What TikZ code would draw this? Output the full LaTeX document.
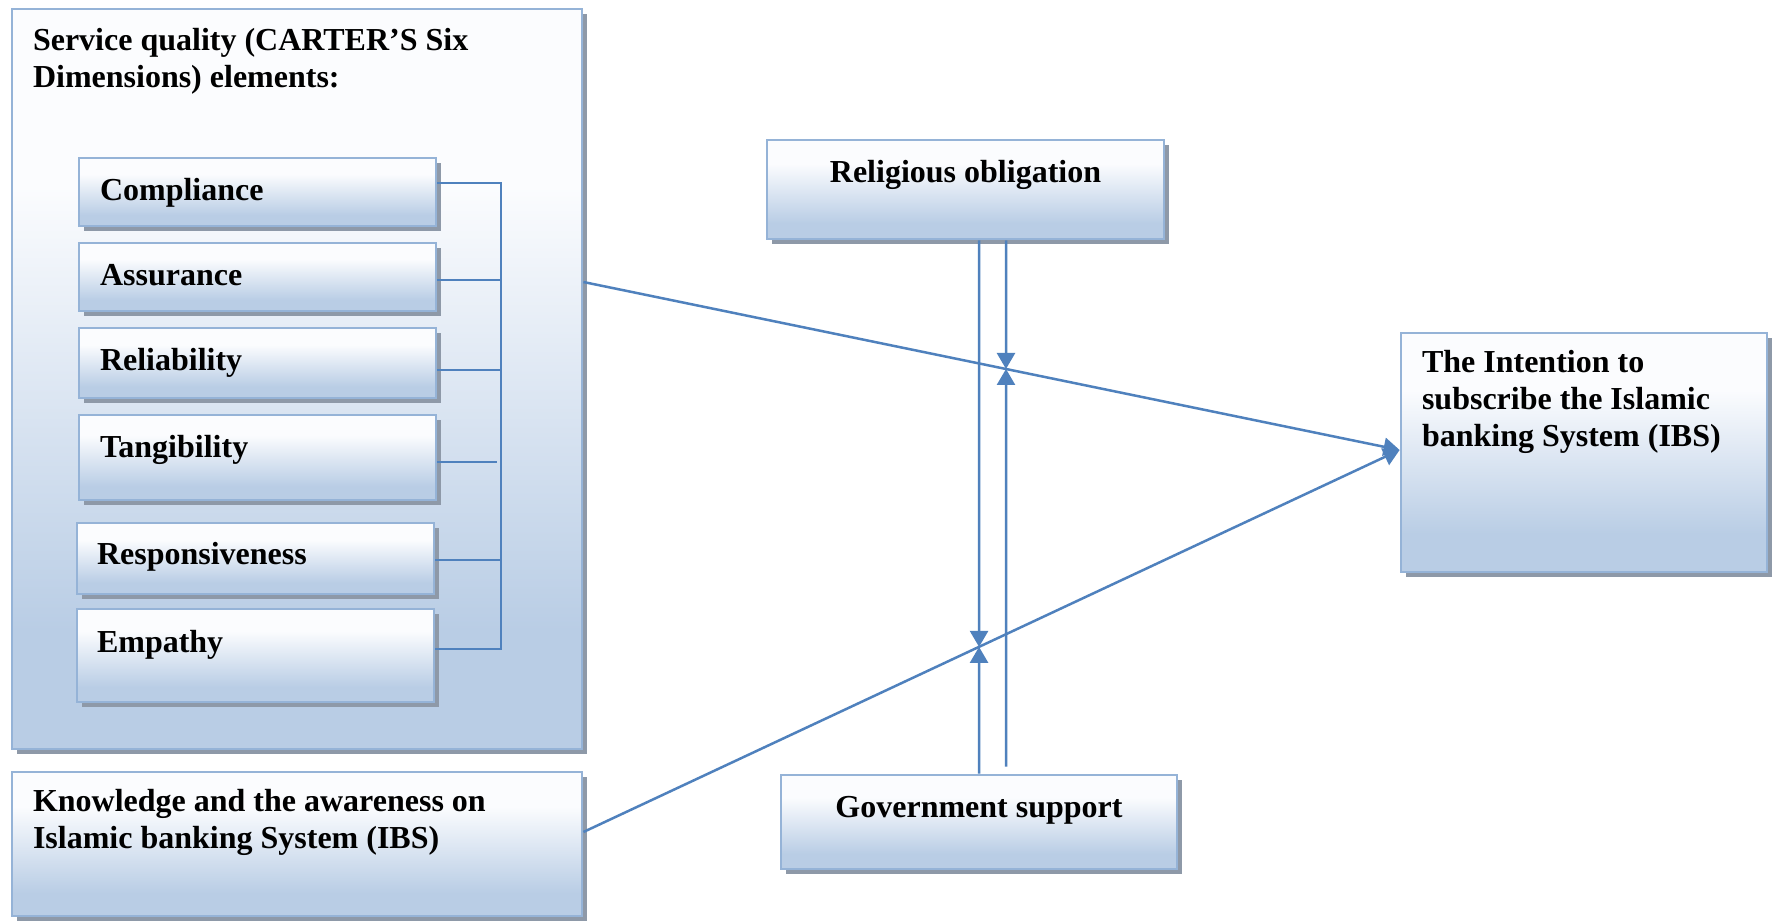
\documentclass[tikz,border=0pt]{standalone}
\usepackage{fontspec}
\setmainfont{Liberation Serif}
\usetikzlibrary{arrows.meta,shadows,fit,calc}
\definecolor{boxborder}{HTML}{95B3D7}
\definecolor{boxbot}{HTML}{B9CDE5}
\definecolor{boxtop}{HTML}{FBFCFE}
\definecolor{shadowgrey}{HTML}{8E99A8}
\definecolor{linkblue}{HTML}{4F81BD}
% white at the top fading to light blue at the bottom
\pgfdeclareverticalshading{boxfade}{100bp}{color(0bp)=(boxbot); color(25bp)=(boxbot); color(33bp)=(boxbot); color(63bp)=(boxtop); color(75bp)=(boxtop); color(100bp)=(boxtop)}
\begin{document}
\begin{tikzpicture}[x=0.5pt, y=-0.5pt,
  box/.style={rectangle, inner sep=0pt, draw=boxborder, line width=1.4pt,
    shading=boxfade,
    drop shadow={shadow xshift=2.3pt, shadow yshift=-2.3pt, fill=shadowgrey, opacity=1}},
  lbl/.style={inner sep=0pt, align=left, font=\fontsize{16}{18.5}\selectfont\bfseries},
  bracket/.style={draw=linkblue, line width=0.9pt},
  arr/.style={draw=linkblue, line width=1.25pt, -{Triangle[length=8pt, width=9pt]}}]

\fill[white] (0,0) rectangle (1775,922);
\useasboundingbox (0,0) rectangle (1775,922);

% outer frame holding the six dimensions (base anchor = last text line)
\node[box, fit={(12,9) (582,749)}] (sq) {};
\node[lbl, anchor=base west] (sqt) at ($(sq.north west)+(22,80)$)
  {Service quality (CARTER’S Six\\Dimensions) elements:};

% the six dimensions
\node[box, fit={(79,158) (436,226)}] (comp) {};
\node[box, fit={(79,243) (436,311)}] (assu) {};
\node[box, fit={(79,328) (436,398)}] (reli) {};
\node[box, fit={(79,415) (436,500)}] (tang) {};
\node[box, fit={(77,523) (434,594)}] (resp) {};
\node[box, fit={(77,609) (434,702)}] (emp) {};
\node[lbl, anchor=base west] (compt) at ($(comp.north west)+(22,44)$) {Compliance};
\node[lbl, anchor=base west] (assut) at ($(assu.north west)+(22,44)$) {Assurance};
\node[lbl, anchor=base west] (relit) at ($(reli.north west)+(22,44)$) {Reliability};
\node[lbl, anchor=base west] (tangt) at ($(tang.north west)+(22,44)$) {Tangibility};
\node[lbl, anchor=base west] (respt) at ($(resp.north west)+(21,43)$) {Responsiveness};
\node[lbl, anchor=base west] (empt) at ($(emp.north west)+(21,45)$) {Empathy};

% bracket joining the dimensions
\coordinate (brtop) at (501,183);
\coordinate (brbot) at (501,649);
\draw[bracket] (comp.east |- brtop) -- (brtop) -- (brbot) -- (emp.east |- brbot);
\draw[bracket] (assu.east |- 0,280) -- (brtop |- 0,280);
\draw[bracket] (reli.east |- 0,370) -- (brtop |- 0,370);
\draw[bracket] (tang.east |- 0,462) -- ($(brtop |- 0,462)+(-4,0)$);
\draw[bracket] (resp.east |- 0,560) -- (brtop |- 0,560);

% remaining boxes
\node[box, fit={(767,140) (1164,239)}] (ro) {};
\node[lbl, anchor=base] (rot) at ($(ro.north)+(0,44)$) {Religious obligation};

\node[box, fit={(781,775) (1177,869)}] (gs) {};
\node[lbl, anchor=base] (gst) at ($(gs.north)+(0,44)$) {Government support};

\node[box, fit={(1401,333) (1767,572)}] (ibs) {};
\node[lbl, anchor=base west] (ibst) at ($(ibs.north west)+(22,115)$)
  {The Intention to\\subscribe the Islamic\\banking System (IBS)};

\node[box, fit={(12,772) (582,916)}] (kn) {};
\node[lbl, anchor=base west] (knt) at ($(kn.north west)+(22,78)$)
  {Knowledge and the awareness on\\Islamic banking System (IBS)};

% connector end points
\coordinate (sqout) at (sq.east |- 0,282);
\coordinate (knout) at (kn.east |- 0,832);
\coordinate (ibsin) at (ibs.west |- 0,450);
\coordinate (roL) at (ro.south -| 979,0);
\coordinate (roR) at (ro.south -| 1006,0);
\coordinate (gsL) at (gs.north -| 979,0);
\coordinate (gsR) at ($(gs.north -| 1006,0)+(0,-7)$);
\coordinate (hitA) at (intersection of sqout--ibsin and roR--gsR);
\coordinate (hitB) at (intersection of knout--ibsin and roL--gsL);

% moderating arrows meeting on the main paths
\draw[arr] (roR) -- (hitA);
\draw[arr] (gsR) -- (hitA);
\draw[arr] (roL) -- (hitB);
\draw[arr] (gsL) -- (hitB);

% main paths into the intention box
\draw[arr] (sqout) -- (ibsin);
\draw[arr] (knout) -- (ibsin);
\end{tikzpicture}
\end{document}
